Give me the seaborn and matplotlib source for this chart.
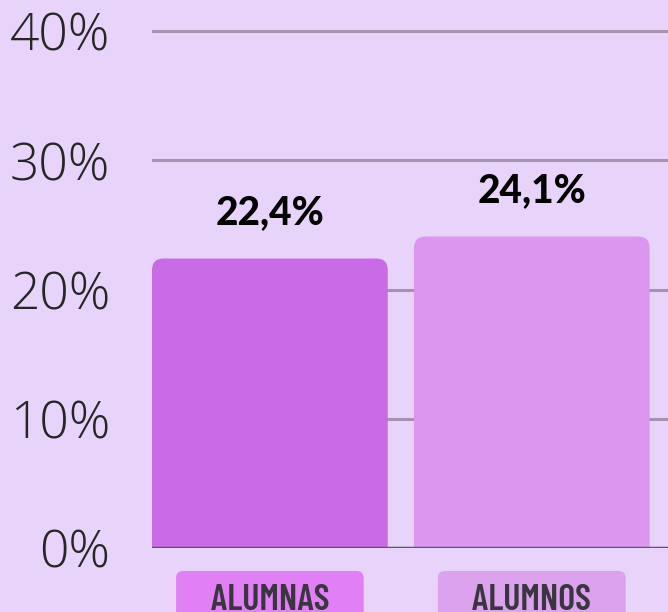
import numpy as np
import pandas as pd
import seaborn as sns
import matplotlib.pyplot as plt
from matplotlib.patches import FancyBboxPatch

#%% Data

categories = ['ALUMNAS', 'ALUMNOS']
values = [22.4, 24.1]
bar_colors = ['#C96AE6', '#DB97EF']
tag_colors = ['#E080F4', '#DDA2EE']
yticks = [0, 10, 20, 30, 40]

df = pd.DataFrame({'grupo': categories, 'pct': values})

#%% Style

bg = '#E8D4FA'
sns.set_theme(style='white')
plt.rcParams['font.family'] = ['Lato', 'DejaVu Sans']

fig = plt.figure(figsize=(6.68, 6.12), dpi=100, facecolor=bg)
ax = fig.add_axes([152/668, 64/612, 1 - 152/668, 548/612])
ax.set_facecolor(bg)

sns.barplot(data=df, x='grupo', y='pct', hue='grupo', palette=bar_colors,
            width=0.9, legend=False, ax=ax, saturation=1)

ax.set_xlim(-0.45, 1.52)
ax.set_ylim(0, 42.4)

# rounded tops: swap each bar for a rounded box (bottom hidden under the axis)
for p, c in zip(list(ax.patches), bar_colors):
    x0, w, h = p.get_x(), p.get_width(), p.get_height()
    p.set_visible(False)
    box = FancyBboxPatch((x0, -3), w, h + 3,
                         boxstyle='round,pad=0,rounding_size=0.045',
                         mutation_aspect=20, fc=c, ec='none', zorder=2)
    ax.add_patch(box)

# grid
for t in yticks[1:]:
    ax.axhline(t, color='#A892B2', lw=2.2, zorder=1)
ax.axhline(0, color='#5E5466', lw=2.5, zorder=3)

for s in ax.spines.values():
    s.set_visible(False)

ax.set_yticks(yticks)
ax.set_yticklabels([f'{t}%' for t in yticks], fontsize=37, color='#262626',
                   family='Open Sans', fontweight=300)
ax.tick_params(axis='y', length=0, pad=30)
ax.set_xticks([])
ax.set_xlabel('')
ax.set_ylabel('')

# value labels
for i, v in enumerate(values):
    ax.annotate(f'{v:.1f}%'.replace('.', ','), (i, v), xytext=(0, 20),
                textcoords='offset points', ha='center', va='bottom',
                fontsize=28, fontweight=900, color='black')

# category tags
for i, (cat, c) in enumerate(zip(categories, tag_colors)):
    ax.text(i, -0.095, '   ' + cat + '   ', transform=ax.get_xaxis_transform(),
            ha='center', va='center', fontsize=26, fontweight=600, color='#3A3540',
            family='Barlow Condensed',
            bbox=dict(boxstyle='round,pad=0.35,rounding_size=0.2', fc=c, ec='none'),
            clip_on=False)

fig.savefig('out.png', dpi=100, facecolor=bg)
